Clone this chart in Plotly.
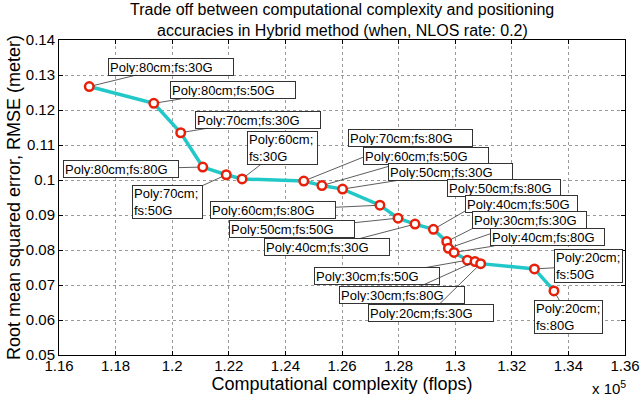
import plotly.graph_objects as go

# ---- data ----
complexity_e5 = [1.1707, 1.1935, 1.2030, 1.2108, 1.2191, 1.2247, 1.2465, 1.2529, 1.2602,
                 1.2734, 1.2798, 1.2858, 1.2923, 1.2970, 1.2976, 1.2996, 1.3043, 1.3070,
                 1.3090, 1.3280, 1.3349]
rmse = [0.1267, 0.1219, 0.1135, 0.1037, 0.1015, 0.1003, 0.0997, 0.0984, 0.0974,
        0.0928, 0.0891, 0.0874, 0.0859, 0.0824, 0.0805, 0.0793, 0.0771, 0.0767,
        0.0761, 0.0746, 0.0683]
labels = ["Poly:80cm;fs:30G", "Poly:80cm;fs:50G", "Poly:70cm;fs:30G", "Poly:80cm;fs:80G",
          "Poly:70cm;<br>fs:50G", "Poly:60cm;<br>fs:30G", "Poly:70cm;fs:80G", "Poly:60cm;fs:50G",
          "Poly:50cm;fs:30G", "Poly:60cm;fs:80G", "Poly:50cm;fs:50G", "Poly:40cm;fs:30G",
          "Poly:50cm;fs:80G", "Poly:40cm;fs:50G", "Poly:30cm;fs:30G", "Poly:40cm;fs:80G",
          "Poly:30cm;fs:50G", "Poly:30cm;fs:80G", "Poly:20cm;fs:30G", "Poly:20cm;<br>fs:50G",
          "Poly:20cm;<br>fs:80G"]
x_ticks = [1.16, 1.18, 1.2, 1.22, 1.24, 1.26, 1.28, 1.3, 1.32, 1.34, 1.36]
y_ticks = [0.05, 0.06, 0.07, 0.08, 0.09, 0.1, 0.11, 0.12, 0.13, 0.14]
title_lines = ["Trade off between computational complexity and positioning",
               "accuracies in Hybrid method (when, NLOS rate: 0.2)"]

# ---- label box layout (pixel offsets from point, box outer size) ----
offsets = [(82, -20), (79, -13), (77, -13), (-82, 2), (-59, 27), (40, -31), (107, -43),
           (104, -30), (108, -17), (-107, 5), (-106, 11), (-88, 23), (71, -41), (75, -38),
           (81, -28), (93, -15), (-90, 16), (-73, 33), (-50, 49), (54, -3), (15, 26)]
box_w = [126, 126, 126, 116, 71, 71, 125, 126, 125, 126, 126, 126, 114, 113, 115, 115,
         126, 126, 126, 69, 69]

FONT = "Liberation Sans, Arial, sans-serif"

fig = go.Figure()
fig.add_trace(go.Scatter(
    x=complexity_e5, y=rmse, mode="lines+markers",
    line=dict(color="#22C8C8", width=3.5),
    marker=dict(symbol="circle", size=8.5, color="white",
                line=dict(color="#E8200A", width=2.5)),
    showlegend=False, hoverinfo="skip"))

annotations = []
for xv, yv, lab, (ax, ay), w in zip(complexity_e5, rmse, labels, offsets, box_w):
    two = "<br>" in lab
    annotations.append(dict(
        x=xv, y=yv, xref="x", yref="y", text=lab, showarrow=True,
        ax=ax, ay=ay, arrowhead=0, arrowwidth=0.8, arrowcolor="#333",
        standoff=5, startstandoff=0,
        bgcolor="white", bordercolor="#333", borderwidth=1, borderpad=1,
        width=w - 4, height=(30 if two else 14), align="left", valign="middle",
        font=dict(family=FONT, size=13, color="black")))

# title lines
for line, shift in zip(title_lines, [31, 10]):
    annotations.append(dict(
        x=0.5, y=1, xref="paper", yref="paper", xanchor="center", yanchor="middle",
        yshift=shift, text=line, showarrow=False,
        font=dict(family=FONT, size=16, color="black")))

annotations.append(dict(
    x=1, y=0, xref="paper", yref="paper", xanchor="right", yanchor="middle",
    xshift=3, yshift=-32, text="x 10<sup>5</sup>", showarrow=False,
    font=dict(family=FONT, size=15, color="black")))

axis_common = dict(
    showline=True, linecolor="black", linewidth=1, mirror="ticks",
    ticks="inside", ticklen=4, tickcolor="black", automargin=False,
    showgrid=True, gridcolor="#9a9a9a", griddash="dot", gridwidth=1,
    zeroline=False, tickfont=dict(family=FONT, size=15, color="black"))

fig.update_layout(
    template="none",
    width=640, height=397,
    margin=dict(l=59, r=15, t=40, b=42, autoexpand=False),
    paper_bgcolor="white", plot_bgcolor="white",
    xaxis=dict(range=[1.16, 1.36], tickvals=x_ticks,
               ticktext=[f"{v:g}" for v in x_ticks], ticklabelstandoff=-3,
               title=dict(text="Computational complexity (flops)", standoff=0,
                          font=dict(family=FONT, size=18, color="black")),
               **axis_common),
    yaxis=dict(range=[0.05, 0.14], tickvals=y_ticks,
               ticktext=[f"{v:g}" for v in y_ticks],
               title=dict(text="Root mean squared error, RMSE (meter)", standoff=0,
                          font=dict(family=FONT, size=18, color="black")),
               **axis_common),
    annotations=annotations,
)

fig.write_html("out.html", config={"displayModeBar": False},
               post_script="document.body.style.margin='0px';"
                           "document.body.style.overflow='hidden';")
